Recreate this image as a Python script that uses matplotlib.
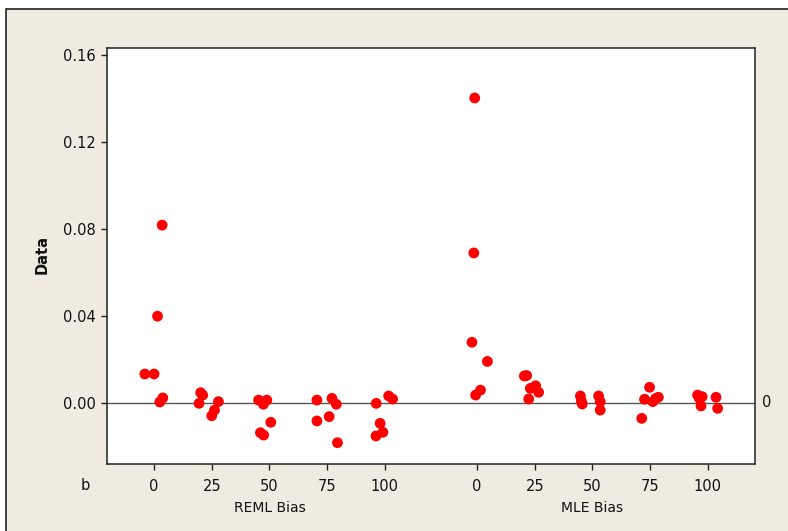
import matplotlib
matplotlib.use("Agg")
import matplotlib.pyplot as plt
from matplotlib.patches import Rectangle
import matplotlib.transforms as mtransforms

# ---- data (x = b level with jitter, y = bias) ----
groups = ["REML Bias", "MLE Bias"]
level_ticks = [0, 25, 50, 75, 100]
tick_labels = ["0", "25", "50", "75", "100"]

reml_x = [-4.0, 0.0, 1.5, 3.5, 2.5, 3.8,
          20.2, 21.1, 19.5, 27.9, 26.2, 25.0,
          45.3, 48.9, 47.4, 50.6, 46.1, 47.5,
          70.6, 77.1, 79.0, 70.6, 75.9, 79.5,
          96.3, 101.7, 103.4, 98.0, 99.2, 96.2]
reml_y = [0.0132, 0.0132, 0.0398, 0.0817, 0.0003, 0.0022,
          0.0046, 0.0035, -0.0003, 0.0005, -0.0034, -0.0060,
          0.0012, 0.0012, -0.0007, -0.0090, -0.0138, -0.0149,
          0.0012, 0.0020, -0.0007, -0.0084, -0.0064, -0.0184,
          -0.0003, 0.0031, 0.0017, -0.0095, -0.0136, -0.0153]

mle_x = [-1.0, -1.4, -2.2, 4.5, -0.6, 1.5,
         20.5, 21.5, 23.1, 25.4, 26.7, 22.4,
         44.8, 45.2, 45.6, 52.7, 53.4, 53.4,
         74.8, 72.6, 76.2, 78.6, 71.4, 77.5,
         95.6, 96.4, 97.6, 97.1, 103.6, 104.3]
mle_y = [0.1402, 0.0689, 0.0278, 0.0190, 0.0035, 0.0058,
         0.0123, 0.0125, 0.0066, 0.0078, 0.0048, 0.0017,
         0.0031, 0.0009, -0.0006, 0.0031, 0.0005, -0.0034,
         0.0071, 0.0016, 0.0005, 0.0025, -0.0072, 0.0020,
         0.0035, 0.0020, 0.0028, -0.0015, 0.0025, -0.0026]

y_ticks = [0.00, 0.04, 0.08, 0.12, 0.16]

# ---- layout ----
group_offset = 140.0
beige = "#EFEBE1"

fig = plt.figure(figsize=(7.88, 5.31), dpi=100, facecolor="white")
bg = Rectangle((6 / 788, -0.1), 1.2, 0.983 + 0.1,
               transform=fig.transFigure, facecolor=beige,
               edgecolor="#222222", linewidth=1.2, zorder=-10)
fig.patches.append(bg)

ax = fig.add_axes([107 / 788, 1 - 464 / 531, (755 - 107) / 788, (464 - 48) / 531])
ax.set_zorder(5)
ax.set_facecolor("white")

ax.axhline(0, color="#555555", linewidth=1.0, zorder=1)

ax.scatter(reml_x, reml_y, s=60, color="#FF0000", edgecolors="none", zorder=3)
ax.scatter([x + group_offset for x in mle_x], mle_y, s=60, color="#FF0000",
           edgecolors="none", zorder=3)

ax.set_xlim(-20.4, 260.5)
ax.set_ylim(-0.0282, 0.1632)

xt = level_ticks + [t + group_offset for t in level_ticks]
ax.set_xticks(xt)
ax.set_xticklabels(tick_labels + tick_labels)
ax.set_yticks(y_ticks)
ax.set_yticklabels([f"{v:.2f}" for v in y_ticks])

ax.tick_params(axis="both", direction="out", length=4, width=1, color="#222222",
               labelsize=10.5, labelcolor="#111111", pad=4)
ax.tick_params(axis="x", pad=7)
for s in ax.spines.values():
    s.set_color("#222222")
    s.set_linewidth(1.1)

# group labels
trans = mtransforms.blended_transform_factory(ax.transData, ax.transAxes)
ax.text(50, -0.106, groups[0], transform=trans, ha="center", va="center",
        fontsize=10, color="#111111")
ax.text(50 + group_offset, -0.106, groups[1], transform=trans, ha="center",
        va="center", fontsize=10, color="#111111")

# right-side reference label
trans2 = mtransforms.blended_transform_factory(ax.transAxes, ax.transData)
ax.text(1.0185, 0, "0", transform=trans2, ha="center", va="center",
        fontsize=10.5, color="#111111", clip_on=False)

fig.text(85 / 788, 1 - 485 / 531, "b", ha="center", va="center",
         fontsize=10.5, color="#111111")
fig.text(42 / 788, 1 - 255 / 531, "Data", rotation=90, ha="center", va="center",
         fontsize=10.5, fontweight="bold", color="#111111")

fig.savefig("out.png", dpi=100, facecolor=fig.get_facecolor())
